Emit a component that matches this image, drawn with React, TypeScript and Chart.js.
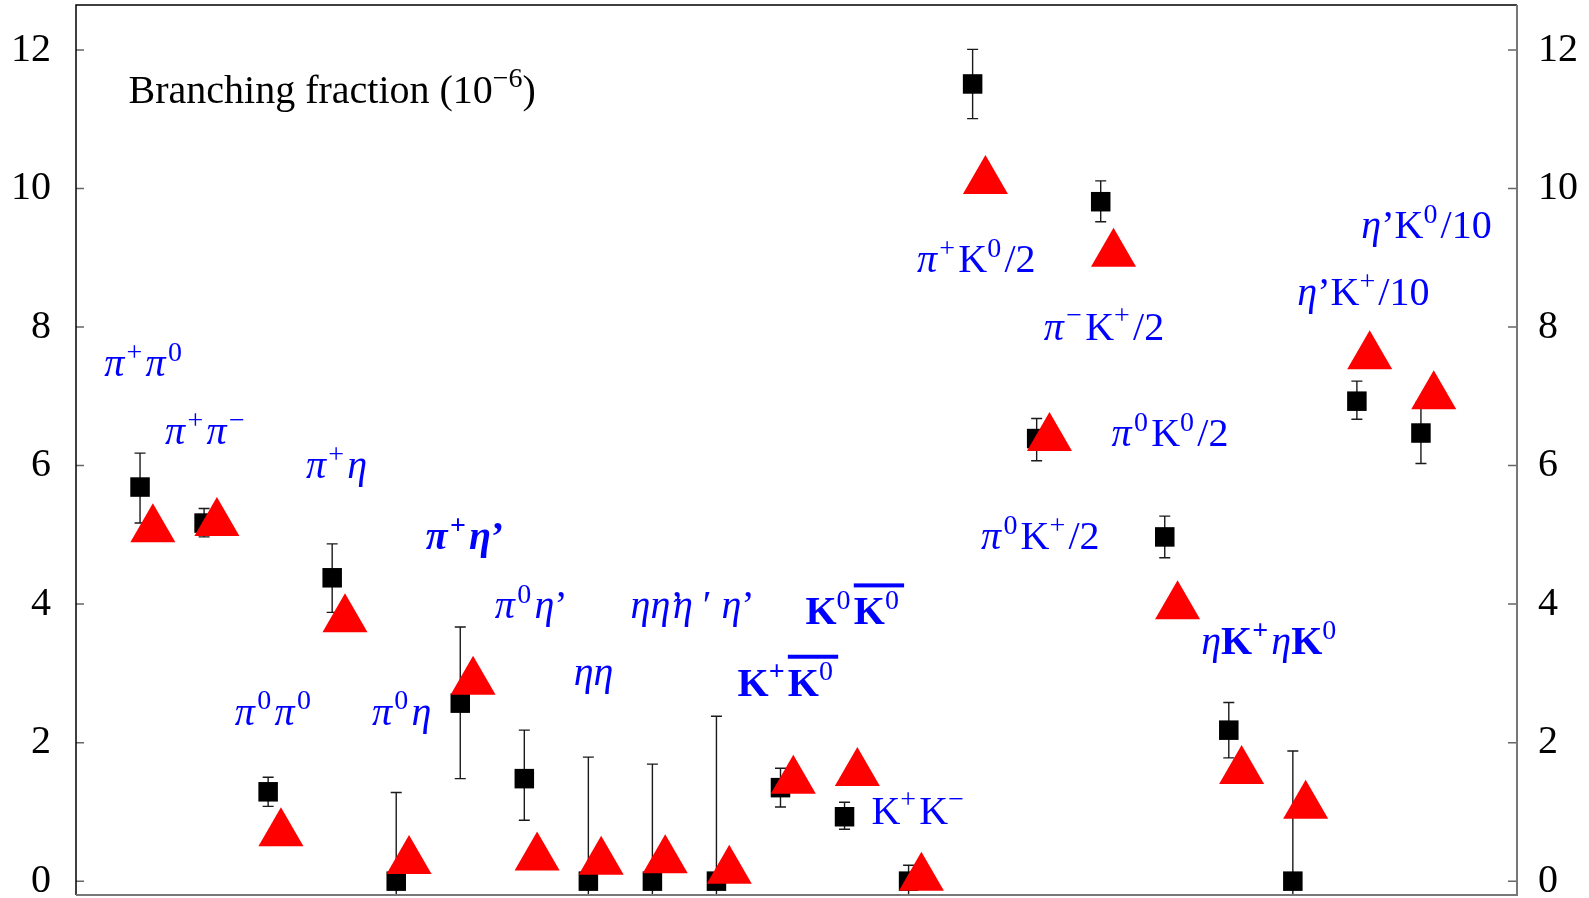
import React, { useEffect, useRef } from "react";
import { Chart, registerables } from "chart.js";

Chart.register(...registerables);

// Decay channels, in plotting order
const channels = [
  "π⁺π⁰", "π⁺π⁻", "π⁰π⁰", "π⁺η", "π⁰η", "π⁺η′", "π⁰η′", "ηη", "ηη′", "η′η′",
  "K⁺K̄⁰", "K⁰K̄⁰", "K⁺K⁻", "π⁺K⁰/2", "π⁰K⁺/2", "π⁻K⁺/2", "π⁰K⁰/2", "ηK⁺", "ηK⁰",
  "η′K⁺/10", "η′K⁰/10",
];

// Measured branching fractions (10^-6) with asymmetric errors
const measured = [5.69, 5.17, 1.29, 4.38, 0, 2.57, 1.48, 0, 0, 0, 1.35, 0.93, 0, 11.51, 6.39, 9.81, 4.97, 2.18, 0, 6.93, 6.47];
const errUp = [0.49, 0.21, 0.21, 0.49, 1.28, 1.1, 0.7, 1.79, 1.69, 2.38, 0.28, 0.21, 0.23, 0.5, 0.29, 0.3, 0.3, 0.4, 1.88, 0.29, 0.44];
const errDown = [0.52, 0.2, 0.21, 0.5, 1.28, 1.09, 0.6, 1.79, 1.69, 2.38, 0.28, 0.18, 0.23, 0.5, 0.32, 0.29, 0.3, 0.4, 1.88, 0.26, 0.44];

// Theoretical predictions (10^-6)
const predicted = [5.08, 5.17, 0.69, 3.78, 0.29, 2.88, 0.34, 0.28, 0.3, 0.15, 1.45, 1.56, 0.05, 10.11, 6.4, 9.06, 3.97, 1.59, 1.09, 7.58, 7.0];

const yTicks = [0, 2, 4, 6, 8, 10, 12];
const yTickLabels = ["0", "2", "4", "6", "8", "10", "12"];

// Text annotations; markup: ^{..} superscript, [..] overlined group
// bold: "all" = every glyph bold, "latin" = only upright letters bold
type Note = { text: string; x: number; y: number; bold?: "all" | "latin"; color?: string };
const notes: Note[] = [
  { text: "Branching fraction (10^{−6})", x: 0.82, y: 11.24, color: "#000000" },
  { text: "π^{+}π^{0}", x: 0.44, y: 7.29 },
  { text: "π^{+}π^{−}", x: 1.39, y: 6.31 },
  { text: "π^{+}η", x: 3.59, y: 5.82 },
  { text: "π^{+}η’", x: 5.46, y: 4.79, bold: "all" },
  { text: "π^{0}η’", x: 6.54, y: 3.8 },
  { text: "π^{0}π^{0}", x: 2.48, y: 2.26 },
  { text: "π^{0}η", x: 4.62, y: 2.26 },
  { text: "ηη", x: 7.77, y: 2.83 },
  { text: "ηη’", x: 8.66, y: 3.8 },
  { text: "η ′ η’", x: 9.32, y: 3.8 },
  { text: "K^{0}[K^{0}]", x: 11.39, y: 3.71, bold: "latin" },
  { text: "K^{+}[K^{0}]", x: 10.33, y: 2.68, bold: "latin" },
  { text: "K^{+}K^{−}", x: 12.42, y: 0.83 },
  { text: "π^{+}K^{0}/2", x: 13.13, y: 8.79 },
  { text: "π^{−}K^{+}/2", x: 15.11, y: 7.82 },
  { text: "π^{0}K^{0}/2", x: 16.17, y: 6.28 },
  { text: "π^{0}K^{+}/2", x: 14.13, y: 4.79 },
  { text: "ηK^{+}ηK^{0}", x: 17.57, y: 3.28, bold: "latin" },
  { text: "η’K^{+}/10", x: 19.07, y: 8.32 },
  { text: "η’K^{0}/10", x: 20.07, y: 9.28 },
];

const FAMILY = "'Liberation Serif', 'Times New Roman', serif";
const FONT_SIZE = 40;
const theoryShift = 0.2;

function drawRich(ctx: CanvasRenderingContext2D, n: Note, x0: number, y0: number) {
  const fs = FONT_SIZE;
  let x = x0;
  let barStart = 0;
  let prevItalic = false;
  ctx.fillStyle = n.color ?? "#0000ff";
  ctx.textBaseline = "alphabetic";
  ctx.textAlign = "left";
  const put = (s: string, sup: boolean) => {
    if (sup && prevItalic) x += fs * 0.06;
    for (const ch of s) {
      const italic = /[πη]/.test(ch);
      const size = sup ? fs * 0.7 : fs;
      const isBold =
        n.bold === "all" || (n.bold === "latin" && !italic && !(sup && /[0-9]/.test(ch)));
      ctx.font = `${italic ? "italic " : ""}${isBold ? "bold " : ""}${size}px ${FAMILY}`;
      ctx.fillText(ch, x, y0 - (sup ? fs * 0.38 : 0));
      x += ctx.measureText(ch).width;
      prevItalic = italic && !sup;
    }
    if (sup && n.color === undefined) x += fs * 0.08;
  };
  let i = 0;
  while (i < n.text.length) {
    const c = n.text[i];
    if (c === "^" && n.text[i + 1] === "{") {
      const j = n.text.indexOf("}", i);
      put(n.text.slice(i + 2, j), true);
      i = j + 1;
      continue;
    }
    if (c === "[") {
      barStart = x;
      i++;
      continue;
    }
    if (c === "]") {
      ctx.fillRect(barStart, y0 - fs * 1.02, x - barStart + 2, 4);
      i++;
      continue;
    }
    put(c, false);
    i++;
  }
}

const errorBars = {
  id: "errorBars",
  beforeDatasetsDraw(chart: any) {
    const { ctx, chartArea: a, scales } = chart;
    const xs = scales.x;
    const ys = scales.y;
    ctx.save();
    ctx.beginPath();
    ctx.rect(a.left, a.top, a.right - a.left, a.bottom - a.top);
    ctx.clip();
    ctx.strokeStyle = "#1a1a1a";
    ctx.lineWidth = 1.4;
    measured.forEach((v, i) => {
      const px = xs.getPixelForValue(i + 1);
      const top = ys.getPixelForValue(v + errUp[i]);
      const bot = ys.getPixelForValue(v - errDown[i]);
      ctx.beginPath();
      ctx.moveTo(px, top);
      ctx.lineTo(px, bot);
      ctx.moveTo(px - 5.5, top);
      ctx.lineTo(px + 5.5, top);
      ctx.moveTo(px - 5.5, bot);
      ctx.lineTo(px + 5.5, bot);
      ctx.stroke();
    });
    ctx.restore();
  },
};

const frameAndNotes = {
  id: "frameAndNotes",
  afterDatasetsDraw(chart: any) {
    const { ctx, chartArea: a, scales } = chart;
    const ys = scales.y;
    ctx.save();
    // inward tick marks and mirrored tick labels
    ctx.strokeStyle = "#666666";
    ctx.lineWidth = 1.5;
    ctx.fillStyle = "#000000";
    ctx.font = `${FONT_SIZE}px ${FAMILY}`;
    ctx.textBaseline = "middle";
    yTicks.forEach((v, k) => {
      const py = ys.getPixelForValue(v);
      ctx.beginPath();
      ctx.moveTo(a.left, py);
      ctx.lineTo(a.left + 8, py);
      ctx.moveTo(a.right - 9, py);
      ctx.lineTo(a.right, py);
      ctx.stroke();
      ctx.textAlign = "right";
      ctx.fillText(yTickLabels[k], a.left - 25, py);
      ctx.textAlign = "left";
      ctx.fillText(yTickLabels[k], a.right + 21, py);
    });
    // frame
    ctx.lineWidth = 1.5;
    ctx.strokeStyle = "#000000";
    ctx.beginPath();
    ctx.moveTo(a.left, a.bottom);
    ctx.lineTo(a.left, a.top);
    ctx.lineTo(a.right, a.top);
    ctx.stroke();
    ctx.lineWidth = 2;
    ctx.strokeStyle = "#777777";
    ctx.beginPath();
    ctx.moveTo(a.right, a.top);
    ctx.lineTo(a.right, a.bottom);
    ctx.lineTo(a.left, a.bottom);
    ctx.stroke();
    // annotations
    notes.forEach((n) => {
      drawRich(ctx, n, scales.x.getPixelForValue(n.x), ys.getPixelForValue(n.y));
    });
    ctx.restore();
  },
};

export default function App() {
  const ref = useRef<HTMLCanvasElement | null>(null);

  useEffect(() => {
    if (!ref.current) return;
    const chart = new Chart(ref.current, {
      type: "scatter",
      data: {
        datasets: [
          {
            label: "Prediction",
            data: predicted.map((v, i) => ({ x: i + 1 + theoryShift, y: v })),
            pointStyle: "triangle",
            pointRadius: 26,
            backgroundColor: "#ff0000",
            borderWidth: 0,
            order: 0,
          },
          {
            label: "Measured",
            data: measured.map((v, i) => ({ x: i + 1, y: v })),
            pointStyle: "rect",
            pointRadius: 13.8,
            backgroundColor: "#000000",
            borderWidth: 0,
            order: 1,
          },
        ],
      },
      options: {
        animation: false,
        responsive: false,
        devicePixelRatio: 1,
        layout: { autoPadding: false, padding: { top: 5, bottom: 3, left: 76, right: 72 } },
        plugins: { legend: { display: false }, tooltip: { enabled: false } },
        scales: {
          x: { type: "linear", min: 0, max: 22.5, display: false },
          y: { type: "linear", min: -0.2, max: 12.65, display: false },
        },
      },
      plugins: [errorBars, frameAndNotes],
    });
    return () => chart.destroy();
  }, []);

  return (
    <div style={{ position: "absolute", left: 0, top: 0, width: 1589, height: 898, background: "#ffffff" }}>
      <canvas ref={ref} width={1589} height={898} aria-label={channels.join(", ")} />
    </div>
  );
}
